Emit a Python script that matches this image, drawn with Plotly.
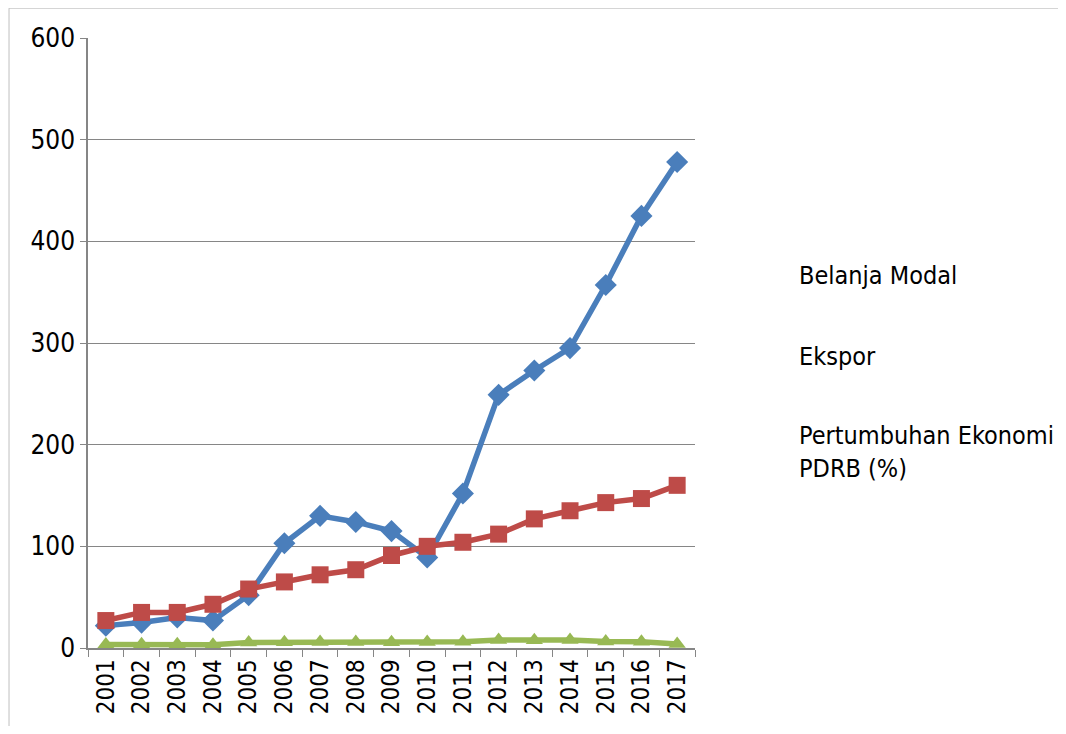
import plotly.graph_objects as go

years = [str(y) for y in range(2001, 2018)]
belanja_modal = [22, 25, 30, 27, 52, 103, 130, 124, 115, 89, 152, 249, 273, 295, 357, 425, 478]
ekspor = [27, 35, 35, 43, 58, 65, 72, 77, 91, 100, 104, 112, 127, 135, 143, 147, 160]
pertumbuhan = [3.5, 3.6, 3.8, 3.2, 5.5, 5.7, 5.9, 6.0, 5.6, 6.0, 6.2, 7.8, 7.7, 7.9, 6.4, 6.2, 4.0]
series_names = ["Belanja Modal", "Ekspor", "Pertumbuhan Ekonomi<br>PDRB (%)"]
y_ticks = [0, 100, 200, 300, 400, 500, 600]

colors = ["#4A7EBB", "#BE4B48", "#98B954"]
symbols = ["diamond", "square", "triangle-up"]
sizes = [17, 17, 15]

fig = go.Figure()
for vals, name, c, s, sz in zip([belanja_modal, ekspor, pertumbuhan], series_names, colors, symbols, sizes):
    fig.add_trace(go.Scatter(
        x=years, y=vals, name=name, mode="lines+markers",
        line=dict(color=c, width=5.5),
        marker=dict(symbol=s, size=sz, color=c),
        showlegend=False,
    ))

font = "DejaVu Sans Condensed, DejaVu Sans"
fig.update_layout(
    width=1050, height=718,
    margin=dict(l=80, r=363, t=30, b=75),
    plot_bgcolor="white", paper_bgcolor="white",
    font=dict(family=font, color="black"),
    xaxis=dict(
        type="category", tickson="boundaries", ticks="outside", ticklen=7,
        tickcolor="#868686", showline=True, linecolor="#868686", linewidth=1.5,
        showgrid=False, tickangle=-90, tickfont=dict(size=24, family=font),
        range=[-0.5, 16.5],
    ),
    yaxis=dict(
        range=[0, 600], tickvals=y_ticks, ticks="outside", ticklen=6,
        tickcolor="#868686", showline=True, linecolor="#868686", linewidth=1.5,
        showgrid=True, gridcolor="#868686", gridwidth=1.2, zeroline=False,
        tickfont=dict(size=26, family=font),
    ),
    shapes=[dict(type="rect", xref="paper", yref="paper",
                 x0=-0.1301, x1=1.9, y0=-0.4, y1=1.0489,
                 line=dict(color="#BFBFBF", width=1), fillcolor="rgba(0,0,0,0)", layer="below")],
)

legend_y = [0.610, 0.478, 0.321]
for name, yy in zip(series_names, legend_y):
    fig.add_annotation(
        xref="paper", yref="paper", x=1.168, y=yy, xanchor="left", yanchor="middle",
        text=name, showarrow=False, align="left",
        font=dict(size=25, family=font, color="black"),
    )

fig.write_html("out.html")
